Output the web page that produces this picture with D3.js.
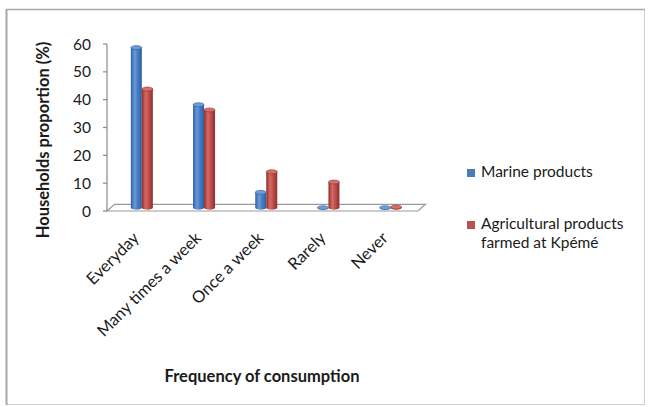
<!DOCTYPE html>
<html>
<head>
<meta charset="utf-8">
<script src="https://cdn.jsdelivr.net/npm/d3@7"></script>
<style>
  html, body { margin: 0; padding: 0; background: #fff; }
  svg text { font-family: Lato, "Open Sans", sans-serif; fill: #1a1a1a; }
</style>
</head>
<body>
<svg id="chart" width="649" height="407"></svg>
<script>
// Frequency of consumption of marine vs. local agricultural products
const categories = ["Everyday", "Many times a week", "Once a week", "Rarely", "Never"];
const seriesNames = ["Marine products", "Agricultural products farmed at Kpémé"];
const marine = [57.5, 37.0, 5.5, 0, 0];
const agricultural = [42.6, 35.1, 12.9, 9.2, 0.2];
const yTicks = [0, 10, 20, 30, 40, 50, 60];

const svg = d3.select("#chart");
const defs = svg.append("defs");

// outer frame
svg.append("rect").attr("x", 6.5).attr("y", 9.5).attr("width", 638).attr("height", 395)
  .attr("fill", "none").attr("stroke", "#d0d0d0").attr("stroke-width", 1);
svg.append("line").attr("x1", 6.5).attr("x2", 6.5).attr("y1", 9).attr("y2", 405)
  .attr("stroke", "#a8a8a8").attr("stroke-width", 2);
svg.append("line").attr("x1", 6).attr("x2", 645).attr("y1", 9.5).attr("y2", 9.5)
  .attr("stroke", "#a8a8a8").attr("stroke-width", 1.5);

// plot geometry (front plane of the 3-D floor)
const x0 = 107, x1 = 418;
const depth = { dx: 7.5, dy: -6.7 };
const x = d3.scaleBand().domain(categories).range([x0, x1]).padding(0);
const y = d3.scaleLinear().domain([0, 60]).range([211, 44]);

// floor
const yb = y(0);
svg.append("polygon")
  .attr("points", [[x0, yb], [x1, yb], [x1 + depth.dx, yb + depth.dy], [x0 + depth.dx, yb + depth.dy]].join(" "))
  .attr("fill", "#fff").attr("stroke", "#9a9a9a").attr("stroke-width", 1.2);

// value axis
svg.append("line").attr("x1", x0).attr("x2", x0).attr("y1", y(60)).attr("y2", y(0))
  .attr("stroke", "#8a8a8a").attr("stroke-width", 1.2);
const tickG = svg.append("g").selectAll("g").data(yTicks).join("g");
tickG.append("line").attr("x1", x0 - 4).attr("x2", x0).attr("y1", d => y(d)).attr("y2", d => y(d))
  .attr("stroke", "#8a8a8a").attr("stroke-width", 1.2);
tickG.append("text").attr("x", 91).attr("y", d => y(d)).attr("dy", "0.36em")
  .attr("text-anchor", "end").attr("font-size", 15.5).text(d => d);

// cylinder gradients
function cylGradient(id, dark, mid, light) {
  const g = defs.append("linearGradient").attr("id", id).attr("x1", 0).attr("x2", 1).attr("y1", 0).attr("y2", 0);
  g.append("stop").attr("offset", "0%").attr("stop-color", dark);
  g.append("stop").attr("offset", "35%").attr("stop-color", light);
  g.append("stop").attr("offset", "60%").attr("stop-color", mid);
  g.append("stop").attr("offset", "100%").attr("stop-color", dark);
}
cylGradient("gBlue", "#2f5f9e", "#4a7ec4", "#6a9ade");
cylGradient("gRed", "#8e2f2c", "#c0504d", "#d66a66");
const colors = [
  { body: "url(#gBlue)", top: "#6f9bd6", edge: "#2f5f9e", key: "#4a7ebb" },
  { body: "url(#gRed)", top: "#d86f6b", edge: "#8e2f2c", key: "#c0504d" }
];

// bars sit at mid-depth of the floor
const mdx = depth.dx / 2, mdy = depth.dy / 2;
const barW = 11, ry = 2;
const rows = [];
categories.forEach((c, i) => {
  [marine[i], agricultural[i]].forEach((v, s) => {
    const cx = x(c) + x.bandwidth() / 2 + mdx;
    rows.push({ c, s, v, left: s === 0 ? cx - barW : cx });
  });
});

const bars = svg.append("g").selectAll("g").data(rows).join("g");
bars.append("path")
  .attr("d", d => {
    const l = d.left, r = d.left + barW, rx = barW / 2;
    const top = y(d.v) + mdy, base = y(0) + mdy;
    return `M${l},${top} L${l},${base} A${rx},${ry} 0 0 0 ${r},${base} L${r},${top} Z`;
  })
  .attr("fill", d => colors[d.s].body);
bars.append("ellipse")
  .attr("cx", d => d.left + barW / 2)
  .attr("cy", d => y(d.v) + mdy)
  .attr("rx", barW / 2).attr("ry", ry)
  .attr("fill", d => colors[d.s].top)
  .attr("stroke", d => colors[d.s].edge).attr("stroke-width", 0.6);

// category labels
svg.append("g").selectAll("text").data(categories).join("text")
  .attr("text-anchor", "end").attr("font-size", 16.5)
  .attr("transform", d => `translate(${x(d) + x.bandwidth() / 2 + 2},${239}) rotate(-45)`)
  .text(d => d);

// axis titles
svg.append("text").attr("font-size", 16.5).attr("font-weight", "bold")
  .attr("text-anchor", "middle")
  .attr("transform", "translate(49,140) rotate(-90)")
  .text("Households proportion (%)");
svg.append("text").attr("font-size", 16.5).attr("font-weight", "bold")
  .attr("text-anchor", "middle").attr("x", 262).attr("y", 382)
  .text("Frequency of consumption");

// legend
const legendItems = [
  { s: 0, lines: ["Marine products"], y: 177 },
  { s: 1, lines: ["Agricultural products", "farmed at Kpémé"], y: 229 }
];
const lg = svg.append("g").selectAll("g").data(legendItems).join("g");
lg.append("rect").attr("x", 467).attr("y", d => d.y - 8).attr("width", 8).attr("height", 8)
  .attr("fill", d => colors[d.s].key);
lg.append("text").attr("x", 481).attr("y", d => d.y).attr("font-size", 15.5)
  .selectAll("tspan").data(d => d.lines).join("tspan")
  .attr("x", 481).attr("dy", (t, i) => i === 0 ? 0 : 19).text(t => t);
</script>
</body>
</html>
